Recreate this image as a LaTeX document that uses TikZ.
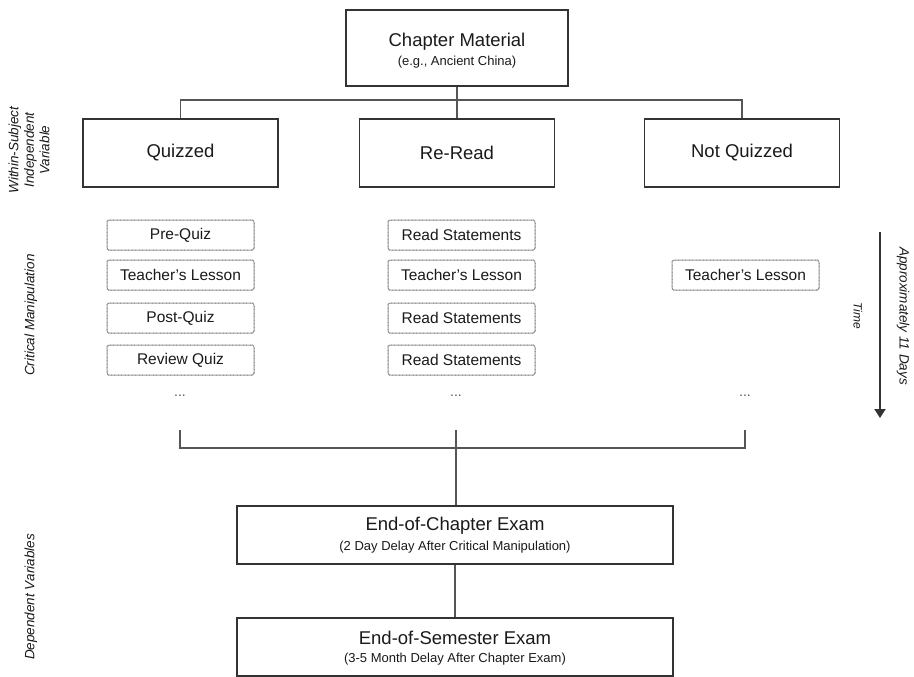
\documentclass[tikz,border=0pt]{standalone}
\usepackage{fontspec}
\setmainfont{Liberation Sans}
\usetikzlibrary{arrows.meta}
\definecolor{boxc}{HTML}{333333}
\definecolor{linec}{HTML}{555555}
\definecolor{dashc}{HTML}{666666}
\definecolor{txtc}{HTML}{1A1A1A}
\newcommand\fsz[2]{\fontsize{#1}{#2}\selectfont}
\tikzset{
  bigbox/.style={draw=boxc, line width=1.8pt, inner sep=0pt, text=txtc},
  stepbox/.style={draw=dashc, line width=1pt, dash pattern=on 0.9pt off 0.5pt,
     rounded corners=1.5pt, minimum width=147pt, minimum height=30pt, inner sep=0pt,
     text=txtc, font=\fsz{15.5}{18}},
  conn/.style={draw=linec, line width=1.3pt},
  title/.style={inner sep=0pt, text=txtc, font=\fsz{18.5}{22}},
  subtitle/.style={inner sep=0pt, text=txtc, font=\fsz{13}{15}},
  dots/.style={inner sep=0pt, text=linec, font=\fsz{14}{16}},
  sidelab/.style={inner sep=0pt, text=txtc, font=\fsz{13.5}{15.5}\itshape, align=center},
}
\begin{document}
\begin{tikzpicture}[x=1pt,y=-1pt]
\useasboundingbox (0,0) rectangle (914,677);
\fill[white] (0,0) rectangle (914,677);

% top box
\node[bigbox, minimum width=222pt, minimum height=76pt] (cm) at (457,48) {};
\node[title] (cmt) at (457,42) {Chapter Material};
\node[subtitle] (cms) at (457,62) {(e.g., Ancient China)};

% condition boxes
\node[bigbox, minimum width=195pt, minimum height=68pt, font=\fsz{18.5}{22}] (q) at (180.5,153) {Quizzed};
\node[bigbox, minimum width=195pt, minimum height=68pt, font=\fsz{18.5}{22}] (rr) at (457,153) {Re-Read};
\node[bigbox, minimum width=195pt, minimum height=68pt, font=\fsz{18.5}{22}] (nq) at (742,153) {Not Quizzed};

\coordinate (jt) at (457,100);
\draw[conn] (q.north) |- (jt) -| (nq.north);
\draw[conn] (cm.south) -- (rr.north);

% steps
\node[stepbox] (q1) at (180.5,235) {Pre-Quiz};
\node[stepbox] (q2) at (180.5,275) {Teacher's Lesson};
\node[stepbox] (q3) at (180.5,318) {Post-Quiz};
\node[stepbox] (q4) at (180.5,360) {Review Quiz};
\node[stepbox] (r1) at (461.5,235) {Read Statements};
\node[stepbox] (r2) at (461.5,275) {Teacher's Lesson};
\node[stepbox] (r3) at (461.5,318) {Read Statements};
\node[stepbox] (r4) at (461.5,360) {Read Statements};
\node[stepbox] (n2) at (745.5,275) {Teacher's Lesson};

\node[dots] (d1) at (180,396) {...};
\node[dots] (d2) at (456,396) {...};
\node[dots] (d3) at (745,396) {...};

% bracket
\coordinate (t1) at (180,430);
\coordinate (t2) at (456,430);
\coordinate (t3) at (745,430);
\coordinate (jb) at (456,448);
\draw[conn] (t1) |- (jb) -| (t3);

% exams
\node[bigbox, minimum width=436pt, minimum height=58pt] (ec) at (455,535) {};
\node[title] (ect) at (455,526) {End-of-Chapter Exam};
\node[subtitle] (ecs) at (455,547) {(2 Day Delay After Critical Manipulation)};
\node[bigbox, minimum width=436pt, minimum height=58pt] (es) at (455,647) {};
\node[title] (est) at (455,638) {End-of-Semester Exam};
\node[subtitle] (ess) at (455,659) {(3-5 Month Delay After Chapter Exam)};

\draw[conn] (t2) -- (t2 |- ec.north);
\draw[conn] (ec.south) -- (es.north);

% side labels
\node[sidelab, rotate=90] (l1) at (29,150) {Within-Subject\\Independent\\Variable};
\node[sidelab, rotate=90] (l2) at (31,315) {Critical Manipulation};
\node[sidelab, rotate=90] (l3) at (31,597) {Dependent Variables};

% time arrow
\coordinate (at) at (880,232);
\coordinate (ab) at (880,418);
\draw[draw=boxc, line width=1.8pt, -{Triangle[length=9pt,width=11pt]}] (at) -- (ab);
\node[sidelab, rotate=-90] (r1l) at (903,316) {Approximately 11 Days};
\node[sidelab, rotate=-90, font=\fsz{12}{14}\itshape] (tl) at (858,316) {Time};
\end{tikzpicture}
\end{document}
